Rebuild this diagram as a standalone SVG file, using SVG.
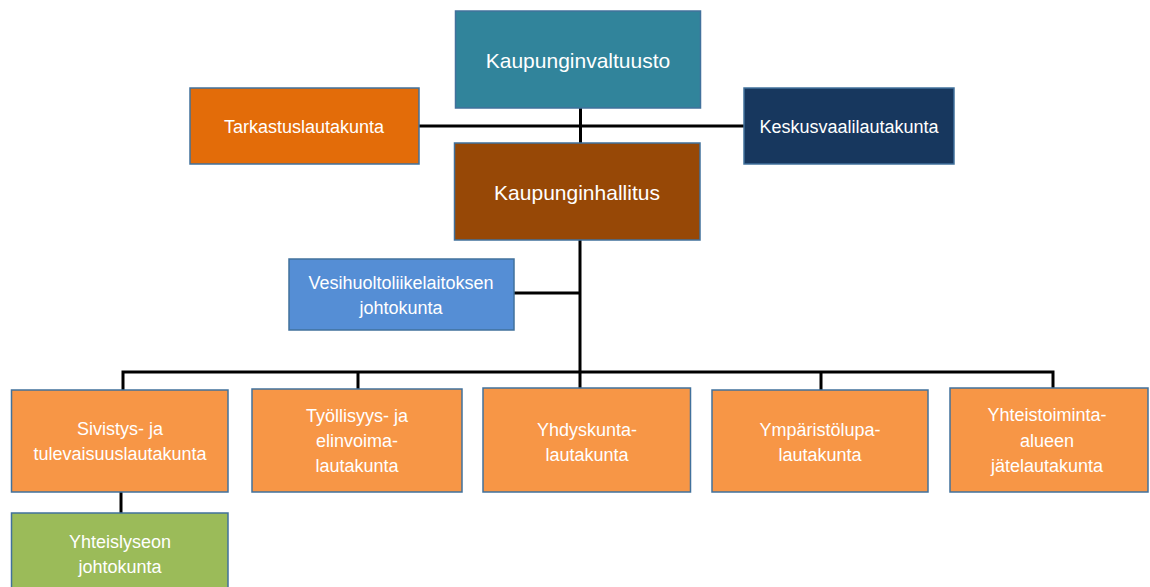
<svg xmlns="http://www.w3.org/2000/svg" width="1150" height="587" viewBox="0 0 1150 587">
<style>
.box{stroke:#41719c;stroke-width:1.5}
text{font-family:"Liberation Sans",Arial,sans-serif;fill:#fff;text-anchor:middle;dominant-baseline:central;font-size:18px}
.big{font-size:21px}
.conn{stroke:#000;stroke-width:3;fill:none}
</style>
<rect width="1150" height="587" fill="#fff"/>
<g id="connectors">
<path class="conn" d="M580.5 108V143M419 126H744"/>
<path class="conn" d="M580 240V390M514 293H580"/>
<path class="conn" d="M123 390V372H1053V390M358 372V390M821 372V390"/>
<path class="conn" d="M121 492V513"/>
</g>
<g id="kaupunginvaltuusto"><rect class="box" x="455.5" y="11" width="245" height="97" fill="#31849b"/><text class="big" x="578" y="60">Kaupunginvaltuusto</text></g>
<g id="tarkastuslautakunta"><rect class="box" x="190" y="88" width="229" height="76" fill="#e36c09"/><text x="304" y="127">Tarkastuslautakunta</text></g>
<g id="keskusvaalilautakunta"><rect class="box" x="744" y="88" width="210" height="76" fill="#17375e"/><text x="849" y="127">Keskusvaalilautakunta</text></g>
<g id="kaupunginhallitus"><rect class="box" x="454.5" y="143" width="245.5" height="97" fill="#974806"/><text class="big" x="577" y="192">Kaupunginhallitus</text></g>
<g id="vesihuolto"><rect class="box" x="289" y="259" width="225" height="71" fill="#558ed5"/><text x="401" y="283">Vesihuoltoliikelaitoksen</text><text x="401" y="308">johtokunta</text></g>
<g id="sivistys"><rect class="box" x="11.5" y="390" width="216.5" height="102" fill="#f79646"/><text x="120" y="429">Sivistys- ja</text><text x="120" y="454">tulevaisuuslautakunta</text></g>
<g id="tyollisyys"><rect class="box" x="252" y="389" width="210" height="103" fill="#f79646"/><text x="357" y="416">Työllisyys- ja</text><text x="357" y="441">elinvoima-</text><text x="357" y="466">lautakunta</text></g>
<g id="yhdyskunta"><rect class="box" x="483" y="388" width="207.5" height="104" fill="#f79646"/><text x="587" y="430">Yhdyskunta-</text><text x="587" y="455">lautakunta</text></g>
<g id="ymparistolupa"><rect class="box" x="712" y="390" width="216" height="102" fill="#f79646"/><text x="820" y="430">Ympäristölupa-</text><text x="820" y="455">lautakunta</text></g>
<g id="yhteistoiminta"><rect class="box" x="950" y="388" width="198" height="104" fill="#f79646"/><text x="1047" y="415">Yhteistoiminta-</text><text x="1047" y="441">alueen</text><text x="1047" y="466">jätelautakunta</text></g>
<g id="yhteislyseo"><rect class="box" x="11.5" y="513" width="216.5" height="80" fill="#9bbb59"/><text x="120" y="542">Yhteislyseon</text><text x="120" y="567">johtokunta</text></g>
</svg>
